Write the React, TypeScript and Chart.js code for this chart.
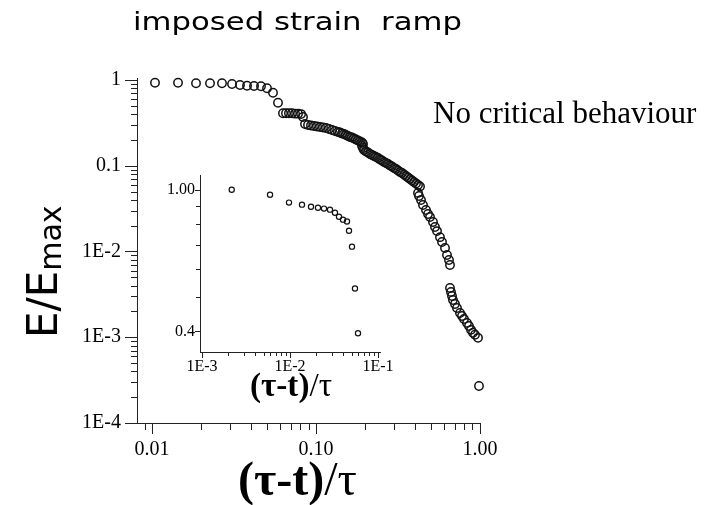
import React, { useEffect, useRef } from "react";
import { Chart, registerables } from "chart.js";
Chart.register(...registerables);

// ---------- data ----------
const mainX = [
  0.01043, 0.01441, 0.01855, 0.02258, 0.02672, 0.03075, 0.0344, 0.03796, 0.04188, 0.0462, 0.05027, 0.05468, 0.05865,
  0.0629, 0.0656, 0.0684, 0.0714, 0.0745, 0.0777, 0.0811, 0.0833,
  0.0857, 0.0894, 0.0932, 0.0972, 0.1014, 0.1058, 0.1103, 0.1151, 0.12, 0.1252, 0.1305, 0.1361,
  0.14, 0.144, 0.1481, 0.1523, 0.1566, 0.1611, 0.1657, 0.1704, 0.1752, 0.1802, 0.1855, 0.1908, 0.1935, 0.1908, 0.1935,
  0.1962, 0.2018, 0.2075, 0.2134, 0.2195, 0.2257, 0.2321, 0.2388, 0.2456, 0.2526, 0.2598, 0.2672, 0.2748, 0.2827, 0.2907,
  0.299, 0.3075, 0.3163, 0.3253, 0.3346, 0.3441, 0.3539, 0.3639, 0.3743, 0.385, 0.3959, 0.4072, 0.4188, 0.4307,
  0.4188, 0.4247, 0.4368, 0.4492, 0.4685, 0.4819, 0.4956, 0.5169, 0.5316, 0.5467, 0.5703, 0.5865, 0.6118, 0.6292, 0.6471, 0.6562,
  0.6562, 0.6655, 0.6749, 0.6844, 0.7039, 0.7239, 0.7551, 0.7766, 0.7987, 0.833, 0.8569, 0.8813, 0.9064, 0.9322, 0.9723,
  0.986,
];
const mainY = [
  0.93, 0.93, 0.915, 0.915, 0.915, 0.898, 0.874, 0.858, 0.851, 0.844, 0.8, 0.711, 0.543,
  0.409, 0.409, 0.409, 0.409, 0.405, 0.405, 0.4, 0.37,
  0.3068, 0.2987, 0.2947, 0.2908, 0.2869, 0.283, 0.2793, 0.2756, 0.2683, 0.2611, 0.2542, 0.2474,
  0.2442, 0.2377, 0.2345, 0.2283, 0.2222, 0.2163, 0.2135, 0.2078, 0.2023, 0.1969, 0.1917, 0.1866, 0.1793, 0.1699, 0.161,
  0.1526, 0.1466, 0.1427, 0.1371, 0.1334, 0.1299, 0.1264, 0.1231, 0.1183, 0.1151, 0.1106, 0.1077, 0.1048, 0.1007, 0.098,
  0.0941, 0.0916, 0.088, 0.0845, 0.0823, 0.079, 0.0759, 0.0729, 0.0701, 0.0673, 0.0646, 0.0621, 0.0596, 0.0573,
  0.0482, 0.0444, 0.0399, 0.0349, 0.0305, 0.0274, 0.0253, 0.0221, 0.0193, 0.0173, 0.0147, 0.0129, 0.011, 0.00909, 0.00796, 0.00696,
  0.00375, 0.00337, 0.00303, 0.00272, 0.00244, 0.00219, 0.00192, 0.00177, 0.00163, 0.00147, 0.00135, 0.00122, 0.00113, 0.00107, 0.000984,
  0.00027,
];

const insetX = [
  0.002176, 0.00593, 0.00974, 0.01369, 0.01732, 0.0208, 0.02434, 0.02848, 0.03246, 0.03604, 0.04003, 0.04443, 0.04683,
  0.05064, 0.05477, 0.05925,
];
const insetY = [
  1.0, 0.968, 0.92, 0.908, 0.896, 0.89, 0.885, 0.879, 0.862, 0.84, 0.824, 0.814, 0.767, 0.692, 0.528, 0.395,
];

// tick values / labels
const mainXMajor = [0.01, 0.1, 1];
const mainXLabels = ["0.01", "0.10", "1.00"];
const mainXMinor = [0.009, 0.02, 0.03, 0.04, 0.05, 0.06, 0.07, 0.08, 0.09, 0.2, 0.3, 0.4, 0.5, 0.6, 0.7, 0.8, 0.9];
const mainYMajor = [1e-4, 1e-3, 1e-2, 0.1, 1];
const mainYLabels = ["1E-4", "1E-3", "1E-2", "0.1", "1"];
const mainYMinor = [
  2e-4, 3e-4, 4e-4, 5e-4, 6e-4, 7e-4, 8e-4, 9e-4,
  2e-3, 3e-3, 4e-3, 5e-3, 6e-3, 7e-3, 8e-3, 9e-3,
  0.02, 0.03, 0.04, 0.05, 0.06, 0.07, 0.08, 0.09,
  0.2, 0.3, 0.4, 0.5, 0.6, 0.7, 0.8, 0.9,
];
const insetXMajor = [0.001, 0.01, 0.1];
const insetXLabels = ["1E-3", "1E-2", "1E-1"];
const insetXMinor = [
  0.002, 0.003, 0.004, 0.005, 0.006, 0.007, 0.008, 0.009,
  0.02, 0.03, 0.04, 0.05, 0.06, 0.07, 0.08, 0.09,
];
const insetYMajor = [0.4, 1.0];
const insetYLabels = ["0.4", "1.00"];
const insetYMinor = [0.5, 0.6, 0.7, 0.8, 0.9];

const titleText = "imposed strain  ramp";
const noteText = "No critical behaviour";

// ---------- styling ----------
const AXIS = "#222222";
const INK = "#000000";
const MARK = "#111111";
const SERIF = '"Liberation Serif", "Times New Roman", serif';
const SANS = '"DejaVu Sans", sans-serif';

function tickPlugin(id: string, s: any) {
  return {
    id,
    afterDraw(chart: any) {
      const { ctx, chartArea } = chart;
      const xs = chart.scales.x;
      const ys = chart.scales.y;
      ctx.save();
      ctx.strokeStyle = AXIS;
      ctx.lineWidth = 1;
      const bottom = Math.round(chartArea.bottom);
      const left = Math.round(chartArea.left);
      const xt = (v: number, len: number) => {
        const p = Math.round(xs.getPixelForValue(v)) + 0.5;
        ctx.beginPath();
        ctx.moveTo(p, bottom);
        ctx.lineTo(p, bottom + len);
        ctx.stroke();
      };
      const yt = (v: number, len: number) => {
        const p = Math.round(ys.getPixelForValue(v)) + 0.5;
        ctx.beginPath();
        ctx.moveTo(left - len, p);
        ctx.lineTo(left, p);
        ctx.stroke();
      };
      s.xMajor.forEach((v: number) => xt(v, s.xMajorLen));
      s.xMinor.forEach((v: number) => xt(v, s.xMinorLen));
      s.yMajor.forEach((v: number) => yt(v, s.yMajorLen));
      s.yMinor.forEach((v: number) => yt(v, s.yMinorLen));
      ctx.restore();
    },
  };
}

function drawRunsFit(ctx: any, runs: { t: string; bold: boolean }[], cx: number, baseline: number, target: number) {
  const base = 40;
  let total = 0;
  runs.forEach((r) => {
    ctx.font = `${r.bold ? "bold " : ""}${base}px ${SERIF}`;
    total += ctx.measureText(r.t).width;
  });
  const size = (base * target) / total;
  let x = cx - target / 2;
  runs.forEach((r) => {
    ctx.font = `${r.bold ? "bold " : ""}${size}px ${SERIF}`;
    ctx.fillText(r.t, x, baseline);
    x += ctx.measureText(r.t).width;
  });
}

const annotationPlugin = {
  id: "annotations",
  afterDraw(chart: any) {
    const ctx = chart.ctx;
    ctx.save();
    ctx.fillStyle = INK;
    ctx.textAlign = "left";
    ctx.textBaseline = "alphabetic";

    // title (wide geometric sans)
    ctx.font = `25px ${SANS}`;
    const tw = ctx.measureText(titleText).width;
    ctx.save();
    ctx.translate(133, 30);
    ctx.scale(329 / tw, 1);
    ctx.fillText(titleText, 0, 0);
    ctx.restore();

    // note
    ctx.font = `31px ${SERIF}`;
    ctx.fillText(noteText, 433, 123);

    // y title E/E_max
    ctx.save();
    ctx.translate(57, 338);
    ctx.rotate(-Math.PI / 2);
    ctx.font = `42px ${SANS}`;
    ctx.fillText("E/E", 0, 0);
    const w = ctx.measureText("E/E").width;
    ctx.font = `30px ${SANS}`;
    ctx.fillText("max", w, 4);
    ctx.restore();

    // main x title
    drawRunsFit(ctx, [{ t: "(τ-t)", bold: true }, { t: "/τ", bold: false }], 297.5, 495, 119);
    // inset x title
    drawRunsFit(ctx, [{ t: "(τ-t)", bold: true }, { t: "/τ", bold: false }], 291, 396, 82);
    ctx.restore();
  },
};

function zip(xs: number[], ys: number[]) {
  const n = Math.min(xs.length, ys.length);
  const out: { x: number; y: number }[] = [];
  for (let i = 0; i < n; i++) out.push({ x: xs[i], y: ys[i] });
  return out;
}

export default function App() {
  const mainRef = useRef<HTMLCanvasElement>(null);
  const insetRef = useRef<HTMLCanvasElement>(null);

  useEffect(() => {
    const tickFont = (size: number) => ({ family: SERIF, size });
    const main = new Chart(mainRef.current as HTMLCanvasElement, {
      type: "scatter",
      data: {
        datasets: [
          {
            data: zip(mainX, mainY),
            pointRadius: 4.2,
            pointBorderWidth: 1.5,
            pointBorderColor: MARK,
            pointBackgroundColor: "rgba(0,0,0,0)",
            showLine: false,
            clip: false,
          } as any,
        ],
      },
      options: {
        responsive: false,
        animation: false,
        devicePixelRatio: 1,
        layout: { padding: { left: 0, top: 78, right: 229, bottom: 0 } },
        plugins: { legend: { display: false }, tooltip: { enabled: false } },
        scales: {
          x: {
            type: "logarithmic",
            position: "bottom",
            min: 0.0081,
            max: 1.0,
            grid: { display: false, drawTicks: true, tickLength: 12 },
            border: { display: true, color: AXIS, width: 1 },
            ticks: {
              font: tickFont(20),
              color: INK,
              padding: 3,
              maxRotation: 0,
              autoSkip: false,
              callback: (_v: any, i: number) => mainXLabels[i],
            },
            afterBuildTicks: (s: any) => {
              s.ticks = mainXMajor.map((v) => ({ value: v }));
            },
            afterFit: (s: any) => {
              s.height = 82;
            },
          },
          y: {
            type: "logarithmic",
            position: "left",
            min: 1e-4,
            max: 1.055,
            grid: { display: false, drawTicks: true, tickLength: 12 },
            border: { display: true, color: AXIS, width: 1 },
            ticks: {
              font: tickFont(20),
              color: INK,
              padding: 4,
              autoSkip: false,
              callback: (_v: any, i: number) => mainYLabels[i],
            },
            afterBuildTicks: (s: any) => {
              s.ticks = mainYMajor.map((v) => ({ value: v }));
            },
            afterFit: (s: any) => {
              s.width = 137;
            },
          },
        },
      } as any,
      plugins: [
        tickPlugin("mainTicks", {
          xMajor: mainXMajor, xMinor: mainXMinor, xMajorLen: 11, xMinorLen: 7,
          yMajor: mainYMajor, yMinor: mainYMinor, yMajorLen: 12, yMinorLen: 6,
        }),
        annotationPlugin,
      ],
    });

    const inset = new Chart(insetRef.current as HTMLCanvasElement, {
      type: "scatter",
      data: {
        datasets: [
          {
            data: zip(insetX, insetY),
            pointRadius: 2.6,
            pointBorderWidth: 1.2,
            pointBorderColor: MARK,
            pointBackgroundColor: "rgba(0,0,0,0)",
            showLine: false,
            clip: false,
          } as any,
        ],
      },
      options: {
        responsive: false,
        animation: false,
        devicePixelRatio: 1,
        layout: { padding: { left: 0, top: 15, right: 20, bottom: 0 } },
        plugins: { legend: { display: false }, tooltip: { enabled: false } },
        scales: {
          x: {
            type: "logarithmic",
            position: "bottom",
            min: 0.000949,
            max: 0.1054,
            grid: { display: false, drawTicks: true, tickLength: 5 },
            border: { display: true, color: AXIS, width: 1 },
            ticks: {
              font: tickFont(16),
              color: INK,
              padding: 0,
              maxRotation: 0,
              autoSkip: false,
              callback: (_v: any, i: number) => insetXLabels[i],
            },
            afterBuildTicks: (s: any) => {
              s.ticks = insetXMajor.map((v) => ({ value: v }));
            },
            afterFit: (s: any) => {
              s.height = 58;
            },
          },
          y: {
            type: "logarithmic",
            position: "left",
            min: 0.352,
            max: 1.1,
            grid: { display: false, drawTicks: true, tickLength: 5 },
            border: { display: true, color: AXIS, width: 1 },
            ticks: {
              font: tickFont(16),
              color: INK,
              padding: 0,
              autoSkip: false,
              callback: (_v: any, i: number) => insetYLabels[i],
            },
            afterBuildTicks: (s: any) => {
              s.ticks = insetYMajor.map((v) => ({ value: v }));
            },
            afterFit: (s: any) => {
              s.width = 70;
            },
          },
        },
      } as any,
      plugins: [
        tickPlugin("insetTicks", {
          xMajor: insetXMajor, xMinor: insetXMinor, xMajorLen: 6, xMinorLen: 4,
          yMajor: insetYMajor, yMinor: insetYMinor, yMajorLen: 5, yMinorLen: 4,
        }),
      ],
    });

    return () => {
      main.destroy();
      inset.destroy();
    };
  }, []);

  return (
    <div style={{ position: "absolute", left: 0, top: 0, width: 709, height: 505, background: "#ffffff" }}>
      <canvas ref={mainRef} width={709} height={505} style={{ position: "absolute", left: 0, top: 0 }} />
      <canvas ref={insetRef} width={270} height={250} style={{ position: "absolute", left: 130, top: 160 }} />
    </div>
  );
}
